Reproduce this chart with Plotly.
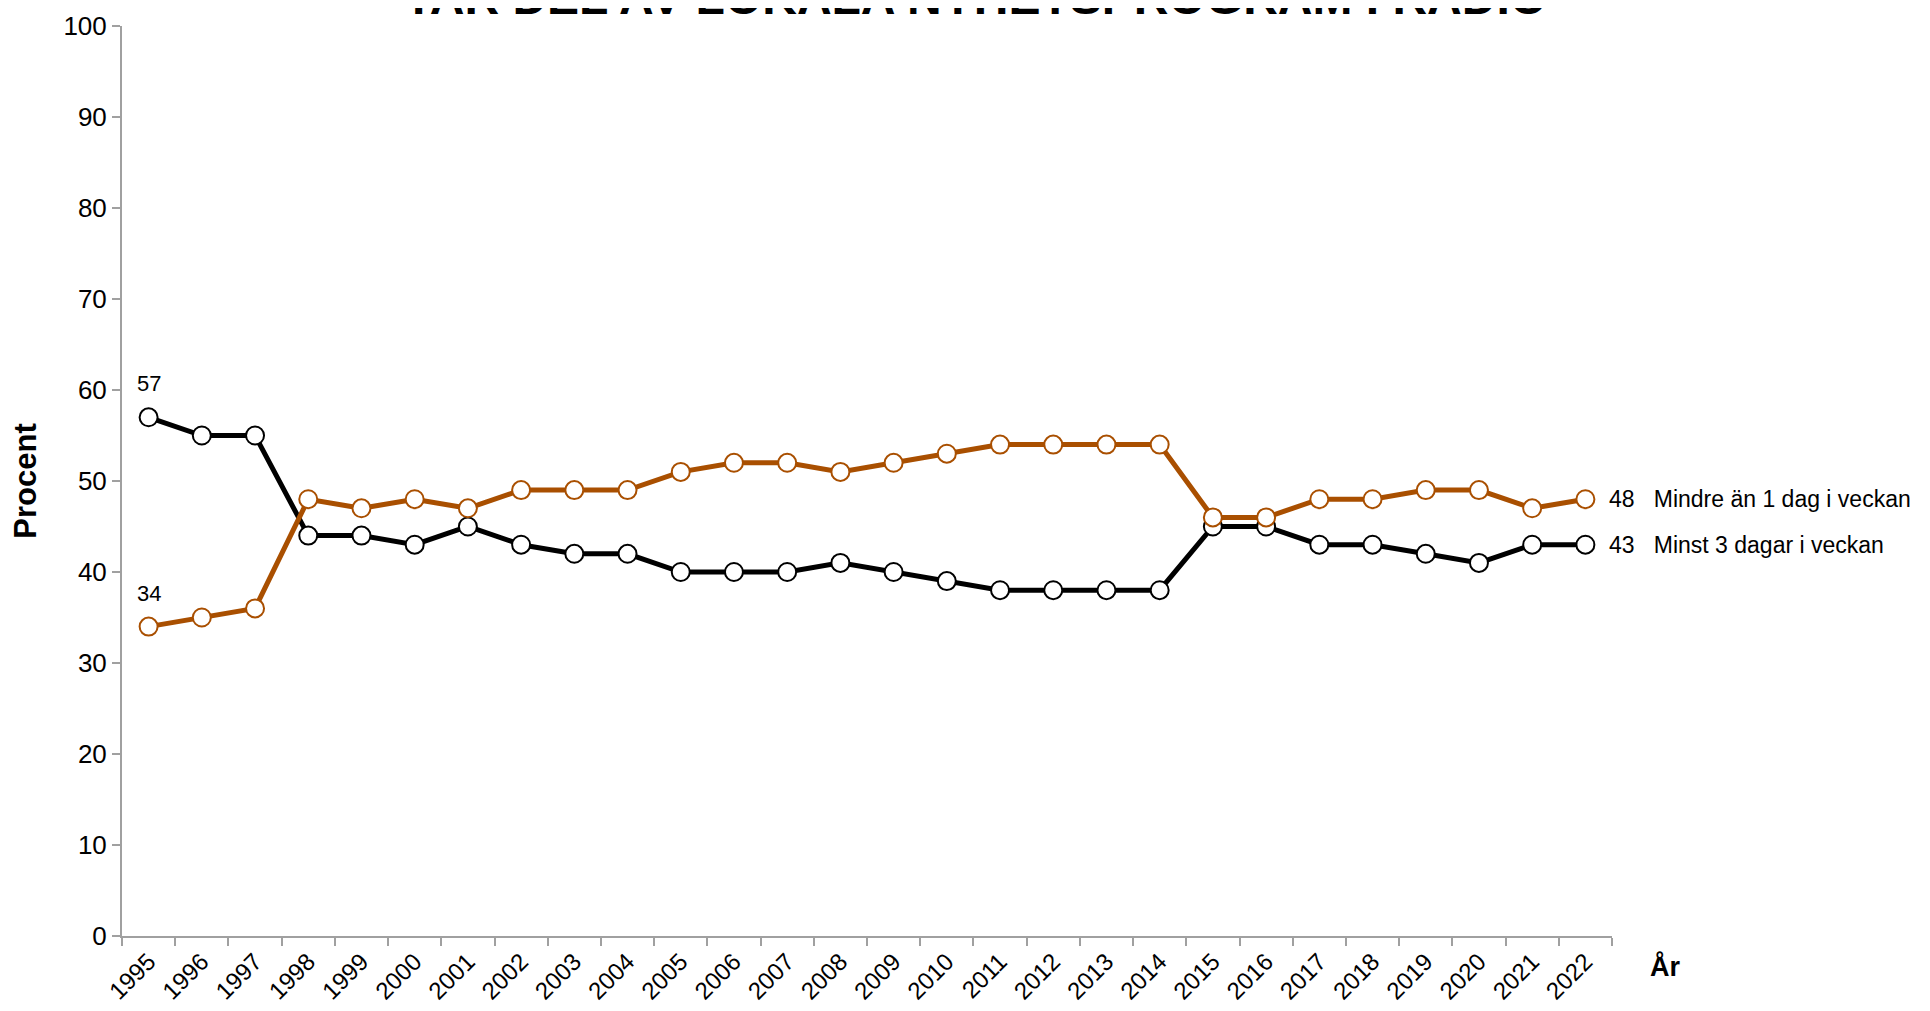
import plotly.graph_objects as go

years = [str(y) for y in range(1995, 2023)]
minst3 = [57, 55, 55, 44, 44, 43, 45, 43, 42, 42, 40, 40, 40, 41, 40, 39, 38, 38, 38, 38,
          45, 45, 43, 43, 42, 41, 43, 43]
mindre1 = [34, 35, 36, 48, 47, 48, 47, 49, 49, 49, 51, 52, 52, 51, 52, 53, 54, 54, 54, 54,
           46, 46, 48, 48, 49, 49, 47, 48]
series_names = ["Minst 3 dagar i veckan", "Mindre än 1 dag i veckan"]
colors = ["#000000", "#A94F00"]
title_text = "TAR DEL AV LOKALA NYHETSPROGRAM I RADIO"

fig = go.Figure()
for vals, name, col in zip([minst3, mindre1], series_names, colors):
    fig.add_trace(go.Scatter(
        x=years, y=vals, mode="lines+markers", name=name,
        line=dict(color=col, width=5),
        marker=dict(size=18, color="white", line=dict(color=col, width=2)),
        cliponaxis=False, showlegend=False,
    ))
    # first value label
    fig.add_annotation(x=0, y=vals[0], text=str(vals[0]), showarrow=False,
                       xanchor="center", yanchor="bottom", yshift=19,
                       font=dict(size=22, color="black", family="Arial"))
    # end label
    fig.add_annotation(x=len(years) - 1, y=vals[-1],
                       text=f"{vals[-1]}&nbsp;&nbsp;&nbsp;{name}",
                       showarrow=False, xanchor="left", yanchor="middle", xshift=22,
                       font=dict(size=23, color="black", family="Arial"))

fig.add_annotation(xref="paper", yref="paper", x=0.5725, y=1.0, yanchor="bottom", yshift=0,
                   text=f"<b>{title_text}</b>", showarrow=False,
                   font=dict(size=48, color="black", family="Arial"))
fig.add_annotation(xref="paper", yref="paper", x=1.0, y=0, xanchor="left", yanchor="middle",
                   xshift=36, yshift=-30, text="<b>År</b>", showarrow=False,
                   font=dict(size=27, color="black", family="Arial"))

fig.update_layout(
    width=1922, height=1003,
    margin=dict(l=114, r=318, t=18, b=75),
    plot_bgcolor="white", paper_bgcolor="white",
    font=dict(family="Arial", color="black"),
    xaxis=dict(type="category", tickangle=-45, ticks="outside", tickson="boundaries",
               ticklen=8, tickcolor="#a0a0a0", tickwidth=2, showline=True,
               linecolor="#a0a0a0", linewidth=2, showgrid=False, automargin=False,
               tickfont=dict(size=24), range=[-0.5, len(years) - 0.5]),
    yaxis=dict(range=[0, 100], dtick=10, ticks="outside", ticklen=8, tickcolor="#a0a0a0",
               tickwidth=2, showline=True, linecolor="#a0a0a0", linewidth=2,
               showgrid=False, zeroline=False, tickfont=dict(size=26), automargin=False,
               title=dict(text="<b>Procent</b>", font=dict(size=31), standoff=20)),
)

fig.write_html("out.html")
